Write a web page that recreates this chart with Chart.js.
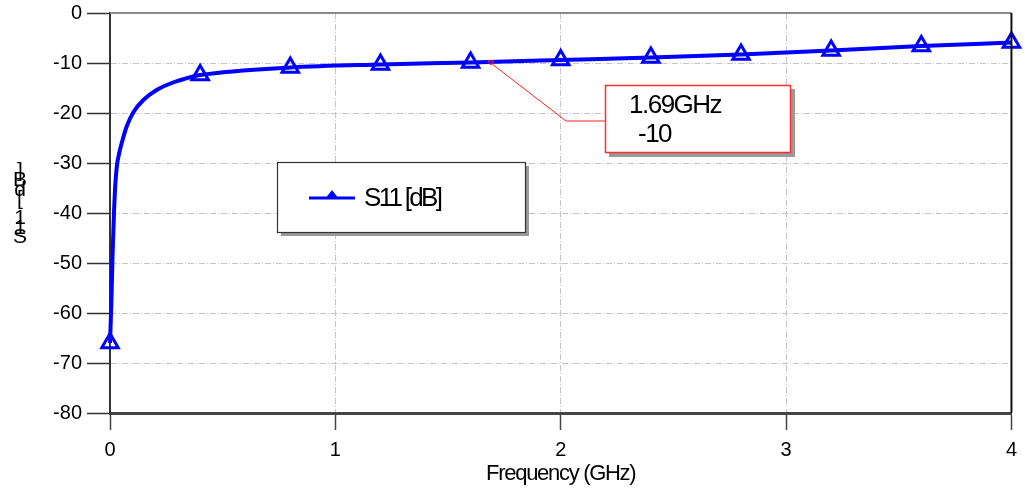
<!DOCTYPE html>
<html>
<head>
<meta charset="utf-8">
<script src="https://cdn.jsdelivr.net/npm/chart.js@4"></script>
<style>
  body { margin: 0; background: #fff; }
  #wrap { width: 1025px; height: 493px; }
</style>
</head>
<body>
<div id="wrap"><canvas id="s11Chart" width="1025" height="493"></canvas></div>
<script>
// values (frequency in GHz, S11 in dB)
const freqGHz = [0, 0.006, 0.011, 0.018, 0.022, 0.030, 0.040, 0.052, 0.074, 0.103, 0.148, 0.207, 0.280, 0.369, 0.4, 0.8, 1.2, 1.6, 2.0, 2.4, 2.8, 3.2, 3.6, 4.0];
const s11dB = [-66, -58, -49, -39.5, -35.5, -30.8, -28.2, -26, -22.7, -19.9, -17.4, -15.4, -13.9, -12.7, -12.4, -10.9, -10.3, -9.9, -9.4, -8.9, -8.3, -7.5, -6.6, -5.9];
const markerFreqs = [0, 0.4, 0.8, 1.2, 1.6, 2.0, 2.4, 2.8, 3.2, 3.6, 4.0];
const xTicks = [0, 1, 2, 3, 4];
const yTicks = [0, -10, -20, -30, -40, -50, -60, -70, -80];
const seriesName = "S11 [dB]";
const xTitle = "Frequency (GHz)";
const markerFreq = 1.69;
const markerValue = -10;
const markerLines = ["1.69GHz", "-10"];

const BLUE = "#0000ff";
const FONT = "'Liberation Sans', Arial, sans-serif";

const points = freqGHz.map((f, i) => ({ x: f, y: s11dB[i] }));

const decorPlugin = {
  id: "decor",
  afterDraw(chart) {
    const ctx = chart.ctx;
    const area = chart.chartArea;
    const xs = chart.scales.x;
    const ys = chart.scales.y;
    ctx.save();

    // top and right frame
    ctx.lineWidth = 2;
    ctx.strokeStyle = "#888";
    ctx.beginPath();
    ctx.moveTo(area.left, area.top);
    ctx.lineTo(area.right, area.top);
    ctx.stroke();
    ctx.strokeStyle = "#111";
    ctx.beginPath();
    ctx.moveTo(area.right, area.top);
    ctx.lineTo(area.right, area.bottom);
    ctx.stroke();

    // legend box
    ctx.fillStyle = "#999";
    ctx.fillRect(281, 166, 248, 70);
    ctx.fillStyle = "#fff";
    ctx.fillRect(277, 162, 248, 70);
    ctx.lineWidth = 1.2;
    ctx.strokeStyle = "#333";
    ctx.strokeRect(277.5, 162.5, 248, 70);
    ctx.strokeStyle = BLUE;
    ctx.lineWidth = 3;
    ctx.beginPath();
    ctx.moveTo(309, 198);
    ctx.lineTo(355, 198);
    ctx.stroke();
    ctx.fillStyle = BLUE;
    ctx.beginPath();
    ctx.moveTo(332, 190);
    ctx.lineTo(339, 199);
    ctx.lineTo(325, 199);
    ctx.closePath();
    ctx.fill();
    ctx.fillStyle = "#000";
    ctx.font = "26px " + FONT;
    ctx.letterSpacing = "-2.7px";
    ctx.textBaseline = "middle";
    ctx.textAlign = "left";
    ctx.fillText(seriesName, 364, 199);

    // marker at 1.69 GHz with leader line to the label box
    const mx = xs.getPixelForValue(markerFreq);
    const my = ys.getPixelForValue(markerValue);
    ctx.strokeStyle = "#ff2020";
    ctx.lineWidth = 1;
    ctx.beginPath();
    ctx.moveTo(mx, my);
    ctx.lineTo(566, 121);
    ctx.lineTo(605, 121);
    ctx.stroke();
    ctx.beginPath();
    ctx.moveTo(mx - 3, my - 2);
    ctx.lineTo(mx + 3, my - 2);
    ctx.lineTo(mx, my + 2);
    ctx.closePath();
    ctx.stroke();

    ctx.fillStyle = "#999";
    ctx.fillRect(609, 89, 186, 68);
    ctx.fillStyle = "#fff";
    ctx.fillRect(605, 85, 186, 68);
    ctx.strokeStyle = "#ff3030";
    ctx.lineWidth = 1.5;
    ctx.strokeRect(605.5, 85.5, 185, 67);
    ctx.fillStyle = "#000";
    ctx.font = "26px " + FONT;
    ctx.letterSpacing = "-1.5px";
    ctx.fillText(markerLines[0], 629, 106);
    ctx.fillText(markerLines[1], 638, 135);

    // x axis title
    ctx.font = "22px " + FONT;
    ctx.letterSpacing = "-1.3px";
    ctx.textAlign = "center";
    ctx.fillText(xTitle, (area.left + area.right) / 2, 474);

    // y axis title, characters stacked upright
    ctx.font = "21px " + FONT;
    ctx.letterSpacing = "0px";
    ctx.textBaseline = "alphabetic";
    const chars = seriesName.split("");
    let cy = 243;
    chars.forEach((c) => {
      if (c !== " ") ctx.fillText(c, 20, cy);
      cy -= 9.5;
    });

    ctx.restore();
  }
};

new Chart(document.querySelector("#s11Chart"), {
  type: "scatter",
  data: {
    datasets: [
      {
        label: seriesName,
        data: points,
        showLine: true,
        borderColor: BLUE,
        borderWidth: 4,
        cubicInterpolationMode: "monotone",
        pointStyle: "triangle",
        pointRadius: (c) => (markerFreqs.includes(c.raw.x) ? 9.5 : 0),
        pointBorderWidth: 3,
        pointBorderColor: BLUE,
        pointBackgroundColor: "rgba(255,255,255,0)",
        clip: false
      }
    ]
  },
  plugins: [decorPlugin],
  options: {
    responsive: false,
    animation: false,
    layout: { padding: { top: 13, right: 12, left: 0, bottom: 0 } },
    plugins: {
      legend: { display: false },
      tooltip: { enabled: false }
    },
    scales: {
      x: {
        type: "linear",
        min: 0,
        max: 4,
        afterFit: (s) => { s.height = 80; },
        afterBuildTicks: (s) => { s.ticks = xTicks.map((v) => ({ value: v })); },
        ticks: {
          color: "#000",
          font: { family: FONT, size: 20 },
          padding: 8,
          maxRotation: 0
        },
        grid: {
          color: "#c4c4c4",
          lineWidth: 1,
          tickLength: 17,
          tickColor: "#444",
          tickWidth: 1.5
        },
        border: { color: "#444", width: 3, dash: [6, 2, 1, 2] }
      },
      y: {
        type: "linear",
        min: -80,
        max: 0,
        afterFit: (s) => {
          s.width = 110;
          s.paddingTop = 0;
          s.paddingBottom = 0;
        },
        afterBuildTicks: (s) => { s.ticks = yTicks.map((v) => ({ value: v })); },
        ticks: {
          color: "#000",
          font: { family: FONT, size: 20 },
          padding: 5
        },
        grid: {
          color: "#c4c4c4",
          lineWidth: 1,
          tickLength: 23,
          tickColor: "#333",
          tickWidth: 1.5
        },
        border: { color: "#333", width: 2, dash: [6, 2, 1, 2] }
      }
    }
  }
});
</script>
</body>
</html>
